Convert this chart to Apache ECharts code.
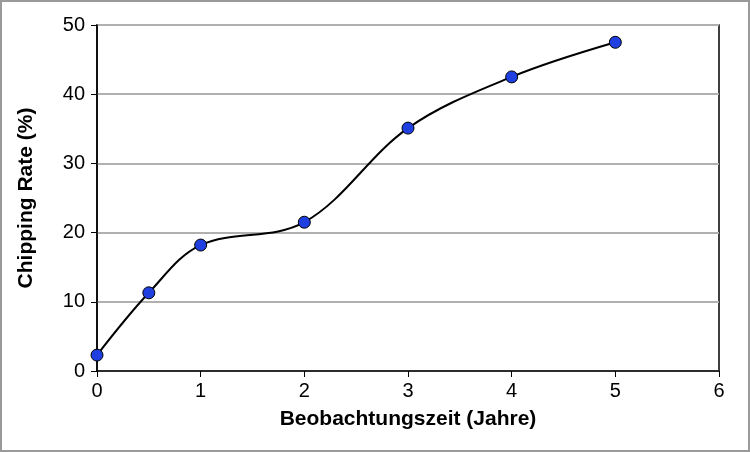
<!DOCTYPE html>
<html>
<head>
<meta charset="utf-8">
<script src="https://cdn.jsdelivr.net/npm/echarts@6/dist/echarts.min.js"></script>
<style>
html,body{margin:0;padding:0;background:#fff}
#chart{width:750px;height:452px;box-sizing:border-box;border:2px solid #9a9a9a}
</style>
</head>
<body>
<div id="chart"></div>
<script>
var years = [0, 0.5, 1, 2, 3, 4, 5];
var chipping = [2.3, 11.3, 18.2, 21.5, 35.1, 42.5, 47.5];

var myChart = echarts.init(document.getElementById('chart'));
myChart.setOption({
    animation: false,
    grid: {left: 95, right: 29, top: 23, bottom: 79, show: true, borderColor: '#000', borderWidth: 1.5},
    xAxis: {
        type: 'value', min: 0, max: 6, interval: 1,
        name: 'Beobachtungszeit (Jahre)', nameLocation: 'middle', nameGap: 38,
        nameTextStyle: {fontFamily: 'Liberation Sans', fontWeight: 'bold', fontSize: 21, color: '#000'},
        axisLine: {lineStyle: {color: '#000', width: 1.5}},
        axisTick: {show: true, inside: false, length: 6, lineStyle: {color: '#000'}},
        axisLabel: {fontFamily: 'Liberation Sans', fontSize: 20, color: '#000', margin: 10},
        splitLine: {show: false}
    },
    yAxis: {
        type: 'value', min: 0, max: 50, interval: 10,
        name: 'Chipping Rate (%)', nameLocation: 'middle', nameGap: 60,
        nameTextStyle: {fontFamily: 'Liberation Sans', fontWeight: 'bold', fontSize: 21, color: '#000'},
        axisLine: {show: true, lineStyle: {color: '#000', width: 1.5}},
        axisTick: {show: true, length: 6, lineStyle: {color: '#000'}},
        axisLabel: {fontFamily: 'Liberation Sans', fontSize: 20, color: '#000', margin: 12},
        splitLine: {show: true, lineStyle: {color: '#b0b0b0', width: 2}}
    },
    series: [{
        type: 'line',
        data: years.map(function (x, i) { return [x, chipping[i]]; }),
        smooth: 0.35,
        symbol: 'circle',
        symbolSize: 12,
        lineStyle: {color: '#000', width: 2},
        itemStyle: {color: '#1f3fe0', borderColor: '#000', borderWidth: 1}
    }]
});
</script>
</body>
</html>
